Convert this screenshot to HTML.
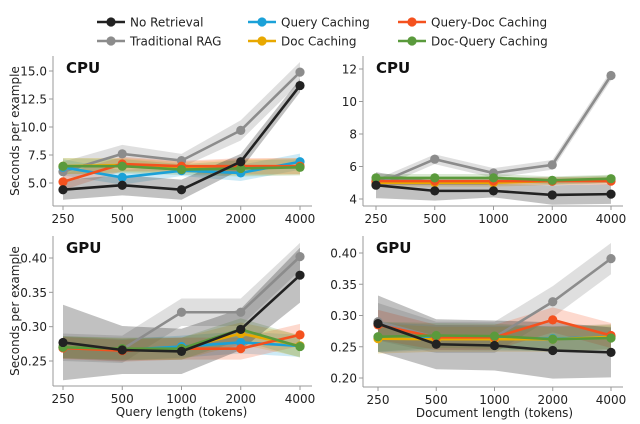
<!DOCTYPE html>
<html><head><meta charset="utf-8">
<style>
html,body{margin:0;padding:0;background:#fff;}
svg{display:block;font-family:"DejaVu Sans","Liberation Sans",sans-serif;}
</style></head>
<body>
<svg id="chart" width="640" height="424" viewBox="0 0 640 424"></svg>
<script>
const categories = ["250","500","1000","2000","4000"];
const seriesNames = ["No Retrieval","Traditional RAG","Query Caching","Doc Caching","Query-Doc Caching","Doc-Query Caching"];
const seriesColors = ["#222222","#8c8c8c","#1ba1d8","#e8a800","#f4511e","#5a9a3c"];
// panel: CPU query
const cpuQueryNoRet = [4.4,4.8,4.4,6.9,13.7];
const cpuQueryTrad = [6.0,7.6,7.0,9.7,14.9];
const cpuQueryQC = [6.4,5.5,6.1,5.9,6.9];
const cpuQueryDC = [6.5,6.6,6.4,6.4,6.5];
const cpuQueryQDC = [5.1,6.7,6.5,6.5,6.5];
const cpuQueryDQC = [6.5,6.5,6.2,6.3,6.4];
const cpuQueryBand = [0.9,0.9,0.9,0.7,0.6,0.9,0.8,0.6,0.9,0.9];
// panel: CPU doc
const cpuDocNoRet = [4.85,4.5,4.5,4.25,4.3];
const cpuDocTrad = [4.9,6.45,5.6,6.1,11.6];
const cpuDocQC = [5.1,5.1,5.1,5.1,5.2];
const cpuDocDC = [5.0,5.0,5.0,5.1,5.2];
const cpuDocQDC = [5.1,5.1,5.1,5.1,5.1];
const cpuDocDQC = [5.3,5.3,5.3,5.15,5.25];
const cpuDocBand = [0.8,0.6,0.4,0.6,0.6,0.3,0.3,0.3,0.3,0.3];
// panel: GPU query
const gpuQueryNoRet = [0.277,0.266,0.264,0.296,0.375];
const gpuQueryTrad = [0.270,0.267,0.321,0.321,0.402];
const gpuQueryQC = [0.270,0.266,0.271,0.277,0.272];
const gpuQueryDC = [0.270,0.267,0.268,0.290,0.272];
const gpuQueryQDC = [0.269,0.265,0.268,0.268,0.288];
const gpuQueryDQC = [0.270,0.268,0.268,0.296,0.271];
const gpuQueryBand = [0.055,0.035,0.033,0.03,0.04,0.02,0.02,0.02,0.02,0.02];
// panel: GPU doc
const gpuDocNoRet = [0.287,0.254,0.252,0.244,0.241];
const gpuDocTrad = [0.290,0.265,0.265,0.322,0.391];
const gpuDocQC = [0.265,0.265,0.264,0.263,0.266];
const gpuDocDC = [0.263,0.262,0.262,0.262,0.266];
const gpuDocQDC = [0.285,0.265,0.265,0.293,0.268];
const gpuDocDQC = [0.266,0.268,0.267,0.262,0.264];
const gpuDocBand = [0.045,0.04,0.04,0.045,0.04,0.03,0.025,0.025,0.025,0.025];
const cpuQueryTicks = [5.0,7.5,10.0,12.5,15.0];
const cpuDocTicks = [4,6,8,10,12];
const gpuQueryTicks = [0.25,0.30,0.35,0.40];
const gpuDocTicks = [0.20,0.25,0.30,0.35,0.40];

const NS="http://www.w3.org/2000/svg";
const svg=document.getElementById('chart');
function el(tag,attrs,parent){const e=document.createElementNS(NS,tag);for(const k in attrs)e.setAttribute(k,attrs[k]);(parent||svg).appendChild(e);return e;}

const panels=[
 {name:'cpu-query',title:'CPU',data:[cpuQueryNoRet,cpuQueryTrad,cpuQueryQC,cpuQueryDC,cpuQueryQDC,cpuQueryDQC],band:cpuQueryBand,ticks:cpuQueryTicks,dec:1,
  x0:63,x1:300,left:53,bottom:206,top:56,v0:5.0,p0:183,v1:15.0,p1:71,ylab:true,xlab:null},
 {name:'cpu-doc',title:'CPU',data:[cpuDocNoRet,cpuDocTrad,cpuDocQC,cpuDocDC,cpuDocQDC,cpuDocDQC],band:cpuDocBand,ticks:cpuDocTicks,dec:0,
  x0:376,x1:611,left:363,bottom:206,top:56,v0:4,p0:199,v1:12,p1:69,ylab:false,xlab:null},
 {name:'gpu-query',title:'GPU',data:[gpuQueryNoRet,gpuQueryTrad,gpuQueryQC,gpuQueryDC,gpuQueryQDC,gpuQueryDQC],band:gpuQueryBand,ticks:gpuQueryTicks,dec:2,
  x0:63,x1:300,left:53,bottom:386,top:236,v0:0.25,p0:361,v1:0.40,p1:258,ylab:true,xlab:'Query length (tokens)'},
 {name:'gpu-doc',title:'GPU',data:[gpuDocNoRet,gpuDocTrad,gpuDocQC,gpuDocDC,gpuDocQDC,gpuDocDQC],band:gpuDocBand,ticks:gpuDocTicks,dec:2,
  x0:378,x1:611,left:363,bottom:387,top:236,v0:0.20,p0:378,v1:0.40,p1:253,ylab:false,xlab:'Document length (tokens)'}
];
const drawOrder=[1,2,3,4,5,0];

panels.forEach(p=>{
  const g=el('g',{});
  
  
  const xs=i=>p.x0+(p.x1-p.x0)*i/(categories.length-1);
  const ys=v=>p.p0+(v-p.v0)*(p.p1-p.p0)/(p.v1-p.v0);
  drawOrder.forEach(s=>{
    const vals=p.data[s];
    let pts=[],low=[];
    vals.forEach((v,i)=>{const w=s<2?p.band[s*5+i]:p.band[5+i]*0.8;pts.push(xs(i)+','+ys(v+w));low.unshift(xs(i)+','+ys(v-w));});
    const b=el('polygon',{points:pts.concat(low).join(' '),fill:seriesColors[s],'fill-opacity':s<2?0.28:0.22},g);
    
    
  });
  el('line',{x1:p.left,y1:p.top,x2:p.left,y2:p.bottom,stroke:'#999','stroke-width':1},g);
  el('line',{x1:p.left,y1:p.bottom,x2:p.x1+12,y2:p.bottom,stroke:'#999','stroke-width':1},g);
  categories.forEach((c,i)=>{
    el('line',{x1:xs(i),y1:p.bottom,x2:xs(i),y2:p.bottom+4,stroke:'#999'},g);
    const t=el('text',{x:xs(i),y:p.bottom+17,'text-anchor':'middle','font-size':12,fill:'#222'},g);
    t.textContent=c;
    
    
  });
  p.ticks.forEach(v=>{
    el('line',{x1:p.left-4,y1:ys(v),x2:p.left,y2:ys(v),stroke:'#999'},g);
    const t=el('text',{x:p.left-6,y:ys(v)+4.5,'text-anchor':'end','font-size':12,fill:'#222'},g);
    t.textContent=v.toFixed(p.dec);
    
    
  });
  drawOrder.forEach(s=>{
    const vals=p.data[s];
    const l=el('polyline',{points:vals.map((v,i)=>xs(i)+','+ys(v)).join(' '),fill:'none',stroke:seriesColors[s],'stroke-width':2.6},g);
    
    
    vals.forEach((v,i)=>{
      const c=el('circle',{cx:xs(i),cy:ys(v),r:4.6,fill:seriesColors[s]},g);
      
      
    });
  });
  const tt=el('text',{x:p.left+13,y:p.top+17,'font-size':15,'font-weight':'bold',fill:'#111'},g);
  tt.textContent=p.title;
  
  
  if(p.ylab){
    const cy=(p.top+p.bottom)/2;
    const yl=el('text',{x:0,y:0,transform:'translate(19,'+cy+') rotate(-90)','text-anchor':'middle','font-size':12,fill:'#222'},g);
    yl.textContent='Seconds per example';
    
    
  }
  if(p.xlab){
    const xl=el('text',{x:(p.x0+p.x1)/2,y:p.bottom+30,'text-anchor':'middle','font-size':12,fill:'#222'},g);
    xl.textContent=p.xlab;
    
    
  }
});

const legendPos=[[97,22],[97,41],[248,22],[248,41],[398,22],[398,41]];
seriesNames.forEach((n,s)=>{
  const g=el('g',{});
  
  
  const [x,y]=legendPos[s];
  el('line',{x1:x,y1:y,x2:x+28,y2:y,stroke:seriesColors[s],'stroke-width':2.6},g);
  el('circle',{cx:x+14,cy:y,r:4.6,fill:seriesColors[s]},g);
  const t=el('text',{x:x+33,y:y+4.5,'font-size':12,fill:'#222'},g);
  t.textContent=n;
});
</script>
</body></html>
